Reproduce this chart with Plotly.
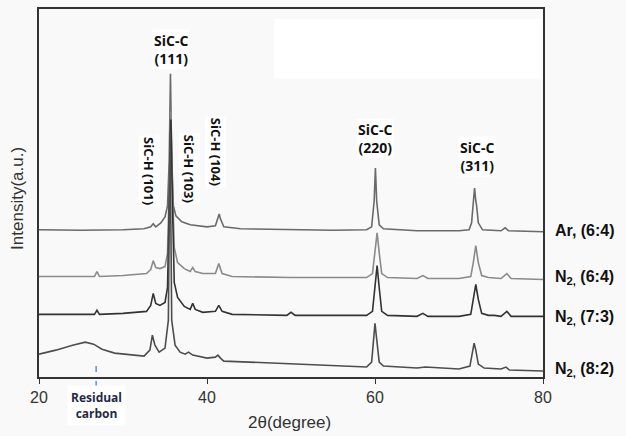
import plotly.graph_objects as go

# 2theta positions (degree) and intensities (arbitrary units, offset stacked)
ar_x = [20, 25, 30, 32.5, 33.3, 33.6, 33.9, 34.5, 35.0, 35.3, 35.5, 35.65, 35.8, 36.0, 36.3, 37, 38, 40, 41.0, 41.3, 41.45, 41.6, 42, 44, 50, 55, 59, 59.6, 59.9, 60.05, 60.2, 60.5, 61, 65, 70, 71.2, 71.5, 71.7, 71.85, 72.0, 72.1, 72.3, 72.8, 75, 75.5, 75.9, 80]
ar_y = [148, 147.5, 148, 149, 151, 154, 151, 155, 161, 172, 217, 305, 217, 172, 162, 156, 153, 151, 152, 159, 164, 159, 151, 149, 148, 147.5, 148, 151, 177, 210, 177, 153, 149, 147, 147, 148, 155, 177, 190, 177, 172, 155, 148, 147, 150, 147, 146]

n64_x = [20, 24, 26.6, 26.9, 27.2, 30, 32.8, 33.3, 33.6, 33.9, 34.4, 35.0, 35.3, 35.5, 35.7, 35.9, 36.1, 36.5, 37.3, 38.0, 38.3, 38.6, 39.5, 41.0, 41.4, 41.8, 43, 50, 55, 59, 59.7, 60.0, 60.25, 60.5, 60.8, 61.5, 65, 65.7, 66.3, 70, 71.4, 71.7, 72.0, 72.3, 72.7, 73.5, 75, 75.7, 76.2, 80]
n64_y = [101, 101, 101, 106, 101, 102, 104, 108, 117, 110, 109, 111, 124, 190, 267, 190, 130, 115, 109, 106, 110, 106, 104, 104, 114, 104, 101, 100, 100, 100, 104, 125, 145, 125, 104, 100, 99, 102, 99, 99, 101, 115, 132, 115, 102, 100, 99, 104, 99, 98]

n73_x = [20, 24, 26.6, 26.9, 27.2, 30, 32.8, 33.3, 33.6, 33.9, 34.4, 35.0, 35.3, 35.5, 35.7, 35.9, 36.1, 36.5, 37.3, 38.0, 38.3, 38.6, 39.5, 41.0, 41.4, 41.8, 43, 49.5, 50, 50.5, 55, 59, 59.7, 60.0, 60.25, 60.5, 60.8, 61.5, 65, 65.7, 66.3, 70, 71.4, 71.7, 72.0, 72.3, 72.7, 73.5, 74.2, 75, 75.7, 76.2, 80]
n73_y = [63, 63, 63, 67, 63, 64, 66, 72, 84, 74, 72, 75, 90, 170, 259, 170, 95, 80, 71, 68, 74, 68, 65, 66, 72, 66, 63, 62, 65, 62, 62, 62, 66, 90, 112, 90, 66, 62, 61, 64, 61, 61, 63, 78, 93, 78, 64, 62, 62, 61, 66, 61, 61]

n82_x = [20, 22, 24, 25.5, 26.5, 27.5, 29, 31, 32.5, 33.2, 33.5, 33.8, 34.3, 35.0, 35.4, 35.6, 35.8, 36.2, 36.8, 37.4, 37.8, 38.3, 40, 41.0, 41.3, 41.6, 42, 45, 50, 55, 59, 59.6, 59.9, 60.0, 60.15, 60.5, 61, 65, 66, 70, 71.3, 71.6, 71.8, 72.0, 72.3, 73, 75, 75.6, 76, 80]
n82_y = [23, 27, 32, 35, 33, 28, 24, 22, 21, 27, 42, 32, 25, 29, 57, 247, 57, 32, 25, 23, 25, 22, 19, 20, 22, 19, 16, 15, 13, 11, 10, 15, 42, 54, 42, 15, 11, 9, 10, 8, 11, 27, 34, 27, 13, 9, 8, 10, 7, 6]

series_names = ["Ar, (6:4)", "N<sub>2,</sub> (6:4)", "N<sub>2,</sub> (7:3)", "N<sub>2,</sub> (8:2)"]
series_x = [ar_x, n64_x, n73_x, n82_x]
series_y = [ar_y, n64_y, n73_y, n82_y]
series_colors = ["#6a6a6a", "#8a8a8a", "#333333", "#4d4d4d"]
label_y = [147, 100, 60, 8]

x_ticks = [20, 40, 60, 80]

fig = go.Figure()
for xs, ys, c, nm in zip(series_x, series_y, series_colors, series_names):
    fig.add_trace(go.Scatter(x=xs, y=ys, mode="lines", line=dict(color=c, width=1.6),
                             name=nm, showlegend=False, hoverinfo="skip"))

bg = "#f9f9f9"
fig.update_layout(
    width=626, height=436,
    margin=dict(l=39, r=83, t=7, b=59),
    paper_bgcolor=bg, plot_bgcolor=bg,
    font=dict(family="Liberation Sans, Arial, sans-serif", color="#222"),
    xaxis=dict(range=[20, 80], tickvals=x_ticks, ticks="outside", ticklen=5,
               tickcolor="#333", tickfont=dict(size=16, color="#333"),
               showline=True, linecolor="#333", linewidth=1.5, mirror=True,
               showgrid=False, zeroline=False),
    yaxis=dict(range=[0, 370], showticklabels=False, ticks="",
               showline=True, linecolor="#333", linewidth=1.5, mirror=True,
               showgrid=False, zeroline=False),
)

# white box in upper right
fig.add_shape(type="rect", xref="x", yref="y", x0=48, x1=79.8, y0=300, y1=360,
              fillcolor="white", line=dict(width=0), layer="below")

anns = []
lbl_font = dict(family="Open Sans, sans-serif", size=14, color="#111")
anns.append(dict(x=35.7, y=329, text="<b>SiC-C<br>(111)</b>", showarrow=False, font=lbl_font, bgcolor="white"))
anns.append(dict(x=60.0, y=240, text="<b>SiC-C<br>(220)</b>", showarrow=False, font=lbl_font, bgcolor="white"))
anns.append(dict(x=72.2, y=222, text="<b>SiC-C<br>(311)</b>", showarrow=False, font=lbl_font, bgcolor="white"))
rot_font = dict(family="Open Sans, sans-serif", size=13, color="#111")
anns.append(dict(x=33.1, y=207, text="<b>SiC-H (101)</b>", textangle=90, showarrow=False, font=rot_font, bgcolor="white"))
anns.append(dict(x=37.9, y=209, text="<b>SiC-H (103)</b>", textangle=90, showarrow=False, font=rot_font, bgcolor="white"))
anns.append(dict(x=41.0, y=226, text="<b>SiC-H (104)</b>", textangle=90, showarrow=False, font=rot_font, bgcolor="white"))
for nm, ly in zip(series_names, label_y):
    anns.append(dict(xref="paper", x=1.0, xshift=10, y=ly, text="<b>" + nm + "</b>",
                     xanchor="left", showarrow=False,
                     font=dict(family="Liberation Sans, Arial, sans-serif", size=16, color="#111")))
anns.append(dict(xref="x", yref="paper", x=26.8, y=0, yshift=-28, text="<b>Residual<br>carbon</b>",
                 showarrow=False, yanchor="middle",
                 font=dict(family="Open Sans, sans-serif", size=12, color="#1f2a48"),
                 bgcolor="white", borderpad=3))
anns.append(dict(xref="paper", yref="paper", x=0, xshift=-21, xanchor="center", y=0.484,
                 text="Intensity(a.u.)", textangle=-90, showarrow=False,
                 font=dict(family="Liberation Sans, Arial, sans-serif", size=17, color="#333")))
anns.append(dict(xref="paper", yref="paper", x=0.498, y=0, yshift=-45, text="2θ(degree)",
                 showarrow=False, yanchor="middle",
                 font=dict(family="Liberation Sans, Arial, sans-serif", size=17, color="#333")))
fig.update_layout(annotations=anns)

fig.add_shape(type="line", xref="x", yref="paper", x0=26.8, x1=26.8, y0=-0.035, y1=0.03,
              line=dict(color="#4a7fc1", width=1.3, dash="dash"))

fig.write_html("out.html", config={"displayModeBar": False},
               post_script="document.body.style.margin='0px';document.body.style.background='#f9f9f9';")
